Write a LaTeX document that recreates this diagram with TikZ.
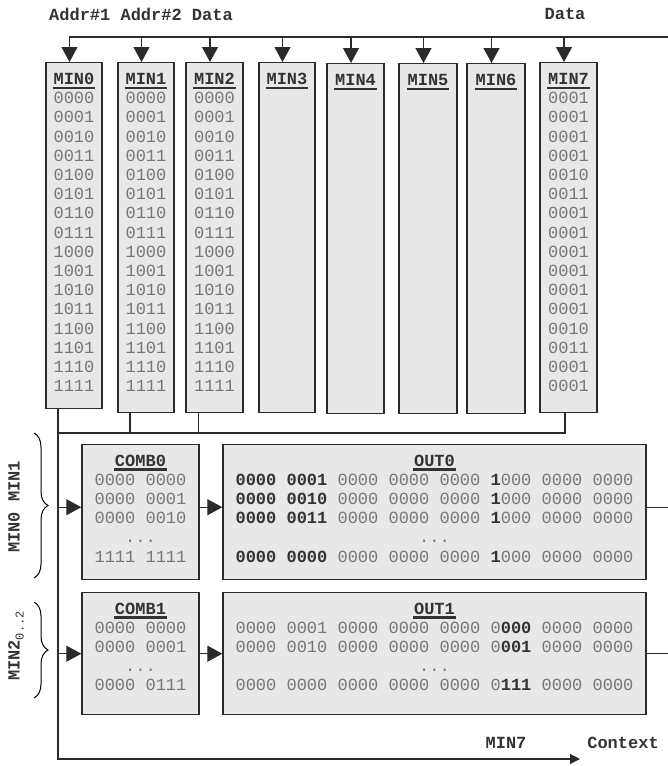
\documentclass[tikz,border=0pt]{standalone}
\usepackage{fontspec}
\setmonofont{Liberation Mono}
\usetikzlibrary{arrows.meta,decorations.pathreplacing}
\definecolor{boxfill}{HTML}{E8E8E8}
\definecolor{linec}{HTML}{2B2B2B}
\definecolor{txtgray}{HTML}{767676}
\definecolor{txtdark}{HTML}{333333}
\newcommand\mhdr[1]{\setbox0=\hbox{\textbf{\color{txtdark}#1}}\rlap{\color{txtdark}\hspace{-1pt}\rule[-4.5pt]{\dimexpr\wd0+2pt\relax}{2.2pt}}\box0}
\newcommand\bk[1]{\textbf{\color{txtdark}#1}}
\begin{document}
\begin{tikzpicture}[x=1pt,y=-1pt,
  font=\ttfamily\fontsize{17}{19.2}\selectfont,
  box/.style={draw=linec, fill=boxfill, line width=1.4pt, inner sep=0, anchor=north},
  txt/.style={anchor=north, align=center, inner sep=0, text=txtgray},
  lbl/.style={inner sep=0, text=txtdark, font=\ttfamily\bfseries\fontsize{17}{19.2}\selectfont},
  wire/.style={draw=linec, line width=1.2pt},
  arr/.style={-{Triangle[length=15pt,width=16pt]}},
  brc/.style={decorate, decoration={brace,amplitude=14pt}, line width=1pt}]
\useasboundingbox (0,0) rectangle (668,766);
% memory columns
\node[box, minimum width=56, minimum height=346] (min0) at (74,62) {};
\node[box, minimum width=56, minimum height=350] (min1) at (146,62) {};
\node[box, minimum width=57, minimum height=350] (min2) at (214.5,62) {};
\node[box, minimum width=56, minimum height=350] (min3) at (287,62) {};
\node[box, minimum width=57, minimum height=350] (min4) at (355.5,63) {};
\node[box, minimum width=58, minimum height=350] (min5) at (428,63) {};
\node[box, minimum width=58, minimum height=350] (min6) at (496,63) {};
\node[box, minimum width=57, minimum height=350] (min7) at (568.5,62) {};
\node[txt] (min0t) at ([yshift=-11pt]min0.north) {\mhdr{MIN0}\\0000\\0001\\0010\\0011\\0100\\0101\\0110\\0111\\1000\\1001\\1010\\1011\\1100\\1101\\1110\\1111};
\node[txt] (min1t) at ([yshift=-11pt]min1.north) {\mhdr{MIN1}\\0000\\0001\\0010\\0011\\0100\\0101\\0110\\0111\\1000\\1001\\1010\\1011\\1100\\1101\\1110\\1111};
\node[txt] (min2t) at ([yshift=-11pt]min2.north) {\mhdr{MIN2}\\0000\\0001\\0010\\0011\\0100\\0101\\0110\\0111\\1000\\1001\\1010\\1011\\1100\\1101\\1110\\1111};
\node[txt] (min3t) at ([yshift=-11pt]min3.north) {\mhdr{MIN3}};
\node[txt] (min4t) at ([yshift=-11pt]min4.north) {\mhdr{MIN4}};
\node[txt] (min5t) at ([yshift=-11pt]min5.north) {\mhdr{MIN5}};
\node[txt] (min6t) at ([yshift=-11pt]min6.north) {\mhdr{MIN6}};
\node[txt] (min7t) at ([yshift=-11pt]min7.north) {\mhdr{MIN7}\\0001\\0001\\0001\\0001\\0010\\0011\\0001\\0001\\0001\\0001\\0001\\0001\\0010\\0011\\0001\\0001};
% combination and output tables
\node[box, minimum width=117, minimum height=135] (comb0) at (140.5,444) {};
\node[box, minimum width=423, minimum height=135] (out0) at (434.5,444) {};
\node[box, minimum width=117, minimum height=122] (comb1) at (140.5,592) {};
\node[box, minimum width=423, minimum height=122] (out1) at (434.5,592) {};
\node[txt] (comb0t) at ([yshift=-10.5pt]comb0.north) {\mhdr{COMB0}\\0000 0000\\0000 0001\\0000 0010\\...\\1111 1111};
\node[txt] (out0t) at ([yshift=-10.5pt]out0.north) {\mhdr{OUT0}\\
  \bk{0000 0001} 0000 0000 0000 \bk{1}000 0000 0000\\
  \bk{0000 0010} 0000 0000 0000 \bk{1}000 0000 0000\\
  \bk{0000 0011} 0000 0000 0000 \bk{1}000 0000 0000\\
  ...\\
  \bk{0000 0000} 0000 0000 0000 \bk{1}000 0000 0000};
\node[txt] (comb1t) at ([yshift=-10.5pt]comb1.north) {\mhdr{COMB1}\\0000 0000\\0000 0001\\...\\0000 0111};
\node[txt] (out1t) at ([yshift=-10.5pt]out1.north) {\mhdr{OUT1}\\
  0000 0001 0000 0000 0000 0\bk{000} 0000 0000\\
  0000 0010 0000 0000 0000 0\bk{001} 0000 0000\\
  ...\\
  0000 0000 0000 0000 0000 0\bk{111} 0000 0000};
% labels
\node[lbl] (addr) at (141,14) {Addr\#1 Addr\#2 Data};
\node[lbl] (data) at (565,14) {Data};
\node[lbl] (min7l) at (506,743) {MIN7};
\node[lbl] (ctx) at (623,743) {Context};
\node[lbl, rotate=90] (sel0l) at (14,507) {MIN0 MIN1};
\node[lbl, rotate=90] (sel1l) at (16,646) {MIN2\raisebox{-4pt}{\mdseries\fontsize{12}{12}\selectfont 0..2}};
% input bus
\coordinate (busR) at (668,37);
\draw[wire,arr] (busR) -| ([xshift=-4.5pt]min0.north);
\foreach \i in {1,...,7}
  \draw[wire,arr] ([xshift=-4.5pt]min\i.north |- busR) -- ([xshift=-4.5pt]min\i.north);
% selector lines
\coordinate (sel) at (58,433);
\coordinate (ctxend) at (580,759);
\draw[wire,-{Triangle[length=10pt,width=10pt]}] ([xshift=-16pt]min0.south) |- (ctxend);
\draw[wire] ([xshift=-3.5pt]min7.south) |- (sel);
\draw[wire] ([xshift=-16pt]min1.south) -- ([xshift=-16pt]min1.south |- sel);
\draw[wire] ([xshift=-16pt]min2.south) -- ([xshift=-16pt]min2.south |- sel);
\draw[wire,arr] ([yshift=5pt]sel |- comb0.west) -- ([yshift=5pt]comb0.west);
\draw[wire,arr] ([yshift=5pt]comb0.east) -- ([yshift=5pt]comb0.east -| out0.west);
\draw[wire] ([yshift=5pt]out0.east) -- ++(22,0);
\draw[wire,arr] (sel |- comb1.west) -- (comb1.west);
\draw[wire,arr] (comb1.east) -- (out1.west);
\draw[wire] (out1.east) -- ++(22,0);
% braces
\draw[brc] (34,433) -- (34,578);
\draw[brc] (34,602) -- (34,698);
\end{tikzpicture}
\end{document}
